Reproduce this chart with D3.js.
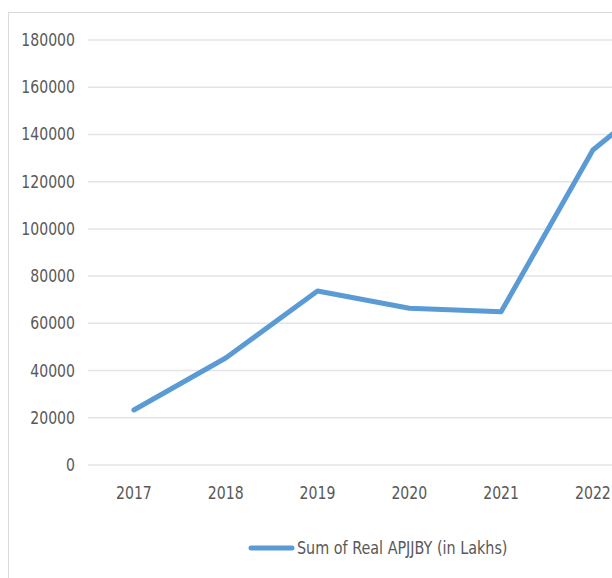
<!DOCTYPE html>
<html>
<head>
<meta charset="utf-8">
<script src="https://cdn.jsdelivr.net/npm/d3@7"></script>
<style>
  html, body { margin: 0; padding: 0; background: #fff; overflow: hidden; }
  svg { display: block; }
  text { font-family: "Liberation Sans Narrow", "Arial Narrow", "DejaVu Sans Condensed", sans-serif; fill: #595959; }
</style>
</head>
<body>
<svg id="chart" width="612" height="578"></svg>
<script>
// Yearly totals of Real APJJBY (in Lakhs)
const years = ["2017", "2018", "2019", "2020", "2021", "2022", "2023"];
const realApjjby = [23300, 45300, 73700, 66400, 64900, 133400, 165000];
const yTicks = [0, 20000, 40000, 60000, 80000, 100000, 120000, 140000, 160000, 180000];
const seriesName = "Sum of Real APJJBY (in Lakhs)";

const svg = d3.select("#chart");
const lineColor = "#5b9bd5";
const squeeze = 0.92; // narrow the label glyphs horizontally

// Outer chart frame (extends past the right edge of the view)
svg.append("rect")
  .attr("x", 8.5).attr("y", 12.5)
  .attr("width", 800).attr("height", 600)
  .attr("fill", "#fff")
  .attr("stroke", "#d9d9d9").attr("stroke-width", 1);

const plotLeft = 88, plotTop = 40, plotBottom = 465;
const step = 91.8;

const x = d3.scaleBand()
  .domain(years)
  .range([plotLeft, plotLeft + step * years.length]);

const y = d3.scaleLinear()
  .domain([0, 180000])
  .range([plotBottom, plotTop]);

// Horizontal gridlines
svg.append("g")
  .selectAll("line")
  .data(yTicks)
  .join("line")
  .attr("x1", plotLeft).attr("x2", plotLeft + step * years.length)
  .attr("y1", d => y(d)).attr("y2", d => y(d))
  .attr("stroke", "#e4e4e4").attr("stroke-width", 1.5);

// Y axis labels
const yAxis = d3.axisLeft(y).tickValues(yTicks).tickSize(0).tickPadding(13).tickFormat(d3.format("d"));
const yG = svg.append("g").attr("transform", `translate(${plotLeft},0)`).call(yAxis);
yG.select(".domain").remove();
yG.selectAll("text")
  .attr("font-size", 17).attr("font-family", null)
  .attr("x", -13 / squeeze)
  .attr("transform", `scale(${squeeze},1)`);

// X axis labels
const xAxis = d3.axisBottom(x).tickSize(0).tickPadding(22);
const xG = svg.append("g").attr("transform", `translate(0,${plotBottom})`).call(xAxis);
xG.select(".domain").remove();
xG.selectAll("text")
  .attr("font-size", 17).attr("font-family", null)
  .attr("transform", `scale(${squeeze},1)`);

// Series line
const line = d3.line()
  .x((d, i) => x(years[i]) + x.bandwidth() / 2)
  .y(d => y(d));

svg.append("path")
  .datum(realApjjby)
  .attr("d", line)
  .attr("fill", "none")
  .attr("stroke", lineColor)
  .attr("stroke-width", 5)
  .attr("stroke-linejoin", "round")
  .attr("stroke-linecap", "round");

// Legend
const legend = svg.append("g").attr("transform", "translate(251,548)");
legend.append("line")
  .attr("x1", 0).attr("x2", 41).attr("y1", 0).attr("y2", 0)
  .attr("stroke", lineColor).attr("stroke-width", 5).attr("stroke-linecap", "round");
legend.append("text")
  .attr("x", 46 / 0.94).attr("y", 0).attr("dy", "0.35em")
  .attr("font-size", 17)
  .attr("transform", "scale(0.94,1)")
  .text(seriesName);
</script>
</body>
</html>
